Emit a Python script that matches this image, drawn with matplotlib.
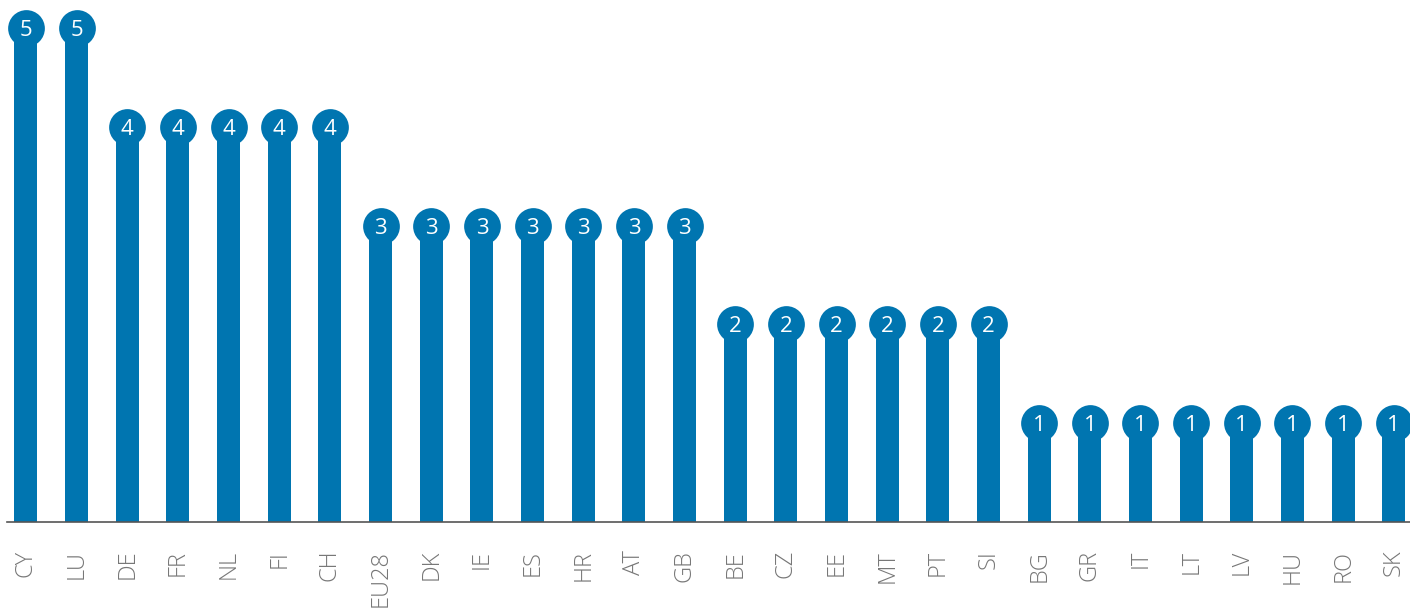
import numpy as np
import matplotlib
matplotlib.use('Agg')
import matplotlib.pyplot as plt

countries = ['CY', 'LU', 'DE', 'FR', 'NL', 'FI', 'CH', 'EU28', 'DK', 'IE', 'ES', 'HR', 'AT', 'GB',
             'BE', 'CZ', 'EE', 'MT', 'PT', 'SI', 'BG', 'GR', 'IT', 'LT', 'LV', 'HU', 'RO', 'SK']
values = [5, 5, 4, 4, 4, 4, 4, 3, 3, 3, 3, 3, 3, 3,
          2, 2, 2, 2, 2, 2, 1, 1, 1, 1, 1, 1, 1, 1]

blue = '#0075b0'
plt.rcParams['font.family'] = ['Open Sans', 'DejaVu Sans']

fig = plt.figure(figsize=(14.1, 6.08), dpi=100)
ax = fig.add_axes([7 / 1410, 86 / 608, 1403 / 1410, 522 / 608])

x = np.arange(len(countries))
ax.bar(x, values, width=0.454, color=blue, zorder=2)
ax.scatter(x, values, s=700, color=blue, zorder=3, clip_on=False, linewidths=0)
for xi, v in zip(x, values):
    ax.text(xi, v, str(v), ha='center', va='center_baseline', color='white',
            fontsize=16, zorder=4)

ax.set_xlim(-0.375, 27.32)
ax.set_ylim(0, 5.283)
ax.set_xticks(x)
ax.set_xticklabels(countries, rotation=90, fontsize=17, color='#777777', fontweight='light')
ax.tick_params(axis='x', length=0, pad=20)
ax.set_yticks([])
for s in ['top', 'right', 'left']:
    ax.spines[s].set_visible(False)
ax.spines['bottom'].set_color('#555555')
ax.spines['bottom'].set_linewidth(1.2)

fig.savefig('out.png', dpi=100)
